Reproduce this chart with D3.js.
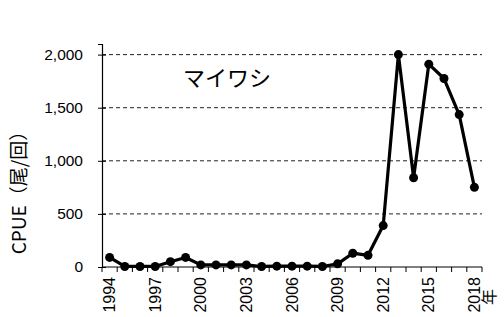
<!DOCTYPE html>
<html>
<head>
<meta charset="utf-8">
<script src="https://cdn.jsdelivr.net/npm/d3@7"></script>
<style>
  body { margin: 0; background: #fff; }
  svg { display: block; }
</style>
</head>
<body>
<div id="chart"></div>
<script>
// data
const years = d3.range(1994, 2019);
const cpue = [90, 5, 5, 5, 50, 90, 20, 20, 20, 20, 5, 8, 8, 8, 5, 30, 130, 110, 390, 2000, 840, 1910, 1775, 1435, 750];
const yTicks = [0, 500, 1000, 1500, 2000];
const xLabelYears = [1994, 1997, 2000, 2003, 2006, 2009, 2012, 2015, 2018];
const title = "マイワシ";
const yTitle = "CPUE（尾/回）";
const xUnit = "年";

const width = 504, height = 317;
const margin = {top: 44, right: 22, bottom: 50, left: 102};
const font = "'Liberation Sans', Arial, sans-serif";
const jpFont = "'Noto Sans CJK JP', sans-serif";

const svg = d3.select("#chart").append("svg")
    .attr("width", width)
    .attr("height", height);

let x = d3.scaleBand()
  .domain(years)
  .range([margin.left, width - margin.right])
  .padding(0);

let y = d3.scaleLinear()
  .domain([0, 2100])
  .range([height - margin.bottom, margin.top]);

// grid lines
svg.append("g")
  .selectAll("line")
  .data(yTicks.filter(d => d > 0))
  .join("line")
    .attr("x1", margin.left)
    .attr("x2", width - margin.right)
    .attr("y1", d => y(d))
    .attr("y2", d => y(d))
    .attr("stroke", "#222")
    .attr("stroke-width", 1)
    .attr("stroke-dasharray", "4,3");

// y axis
svg.append("g")
  .attr("transform", `translate(${margin.left},0)`)
  .call(d3.axisLeft(y).tickValues(yTicks).tickFormat(d3.format(",")).tickSize(4).tickPadding(15))
  .call(g => g.select(".domain").attr("stroke", "#000").attr("stroke-width", 1.2))
  .call(g => g.selectAll(".tick line").attr("x2", 4).attr("x1", -4).attr("stroke", "#000"))
  .call(g => g.selectAll(".tick text").style("font", `15.5px ${font}`).attr("fill", "#000"));

// x axis
let xAxis = svg.append("g")
  .attr("transform", `translate(0,${y(0)})`);

xAxis.append("line")
  .attr("x1", margin.left)
  .attr("x2", width - margin.right)
  .attr("stroke", "#000")
  .attr("stroke-width", 1.2);

xAxis.selectAll(".tk")
  .data(years.concat([2019]))
  .join("line")
    .attr("class", "tk")
    .attr("x1", d => d === 2019 ? width - margin.right : x(d))
    .attr("x2", d => d === 2019 ? width - margin.right : x(d))
    .attr("y1", 0)
    .attr("y2", 5)
    .attr("stroke", "#000");

xAxis.selectAll("text")
  .data(xLabelYears)
  .join("text")
    .attr("transform", d => `translate(${x(d) + x.bandwidth() / 2},10) rotate(-90)`)
    .attr("text-anchor", "end")
    .attr("dy", "0.35em")
    .style("font", `16px ${font}`)
    .text(d => d);

svg.append("text")
  .attr("transform", `translate(489,297) rotate(-90)`)
  .attr("text-anchor", "middle")
  .attr("dy", "0.35em")
  .style("font", `16px ${jpFont}`)
  .text(xUnit);

// y title
svg.append("text")
  .attr("transform", `translate(19,188) rotate(-90)`)
  .attr("text-anchor", "middle")
  .attr("dy", "0.35em")
  .style("font", `19px ${jpFont}`)
  .text(yTitle);

// series label
svg.append("text")
  .attr("x", 227)
  .attr("y", 78)
  .attr("text-anchor", "middle")
  .attr("dy", "0.35em")
  .style("font", `22px ${jpFont}`)
  .text(title);

// line
let line = d3.line()
  .x((d, i) => x(years[i]) + x.bandwidth() / 2)
  .y(d => y(d));

svg.append("path")
  .datum(cpue)
  .attr("fill", "none")
  .attr("stroke", "#000")
  .attr("stroke-width", 3.2)
  .attr("stroke-linejoin", "round")
  .attr("d", line);

svg.append("g")
  .selectAll("circle")
  .data(cpue)
  .join("circle")
    .attr("cx", (d, i) => x(years[i]) + x.bandwidth() / 2)
    .attr("cy", d => y(d))
    .attr("r", 4.5)
    .attr("fill", "#000");
</script>
</body>
</html>
